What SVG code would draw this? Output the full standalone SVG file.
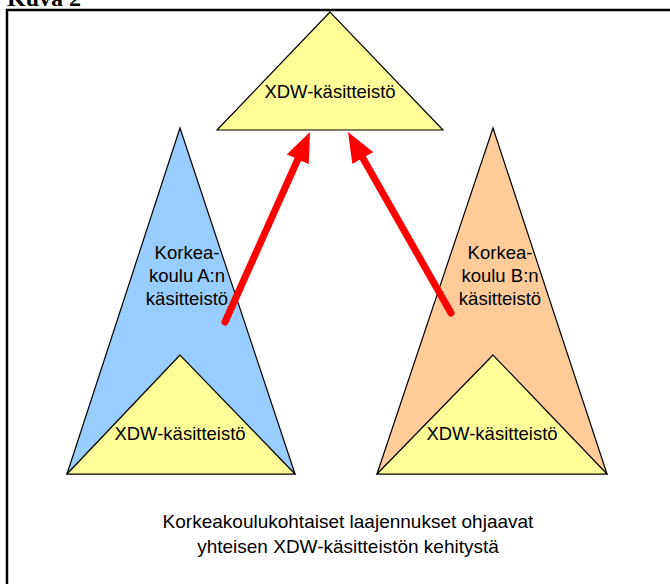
<svg xmlns="http://www.w3.org/2000/svg" width="670" height="584" viewBox="0 0 670 584">
<style>
.tri{stroke:#000;stroke-width:1.2;stroke-linejoin:miter}
.y{fill:#FFFF99}
.b{fill:#99CCFF}
.p{fill:#FFCC99}
.t{font-family:"Liberation Sans",Arial,sans-serif;font-size:18.5px;fill:#000;text-anchor:middle}
.cap{font-family:"Liberation Sans",Arial,sans-serif;font-size:19px;fill:#000;text-anchor:middle}
.arr{stroke:#FF0000;stroke-width:7;stroke-linecap:round;fill:none;marker-end:url(#ah)}
</style>
<defs>
<marker id="ah" markerUnits="userSpaceOnUse" viewBox="0 0 30 24" refX="15" refY="12" markerWidth="30" markerHeight="24" orient="auto">
<path d="M0,0 L30,12 L0,24 z" fill="#FF0000"/>
</marker>
</defs>
<rect width="670" height="584" fill="#fff"/>
<text x="7" y="6" font-family="Liberation Serif,serif" font-weight="bold" font-size="24">Kuva 2</text>
<rect x="7" y="10" width="700" height="600" fill="none" stroke="#000" stroke-width="2.5"/>
<g id="top">
<polygon class="tri y" points="330,12 217,130 443,130"/>
<text class="t" x="330" y="98">XDW-käsitteistö</text>
</g>
<g id="schoolA">
<polygon class="tri b" points="180,128 67,474 295,474"/>
<text class="t" x="187" y="259">Korkea-</text>
<text class="t" x="187" y="282">koulu A:n</text>
<text class="t" x="187" y="305">käsitteistö</text>
</g>
<g id="xdwA">
<polygon class="tri y" points="180,355 67,474 295,474"/>
<text class="t" x="180" y="440">XDW-käsitteistö</text>
</g>
<g id="schoolB">
<polygon class="tri p" points="493,128 377,474 607,474"/>
<text class="t" x="500" y="259">Korkea-</text>
<text class="t" x="500" y="282">koulu B:n</text>
<text class="t" x="500" y="305">käsitteistö</text>
</g>
<g id="xdwB">
<polygon class="tri y" points="493,355 377,474 607,474"/>
<text class="t" x="492" y="440">XDW-käsitteistö</text>
</g>
<g id="connectors">
<line class="arr" x1="225" y1="322" x2="303.9" y2="145.7"/>
<line class="arr" x1="451" y1="313" x2="355.4" y2="145"/>
</g>
<g id="caption">
<text class="cap" x="348" y="528">Korkeakoulukohtaiset laajennukset ohjaavat</text>
<text class="cap" x="348" y="553">yhteisen XDW-käsitteistön kehitystä</text>
</g>
</svg>
